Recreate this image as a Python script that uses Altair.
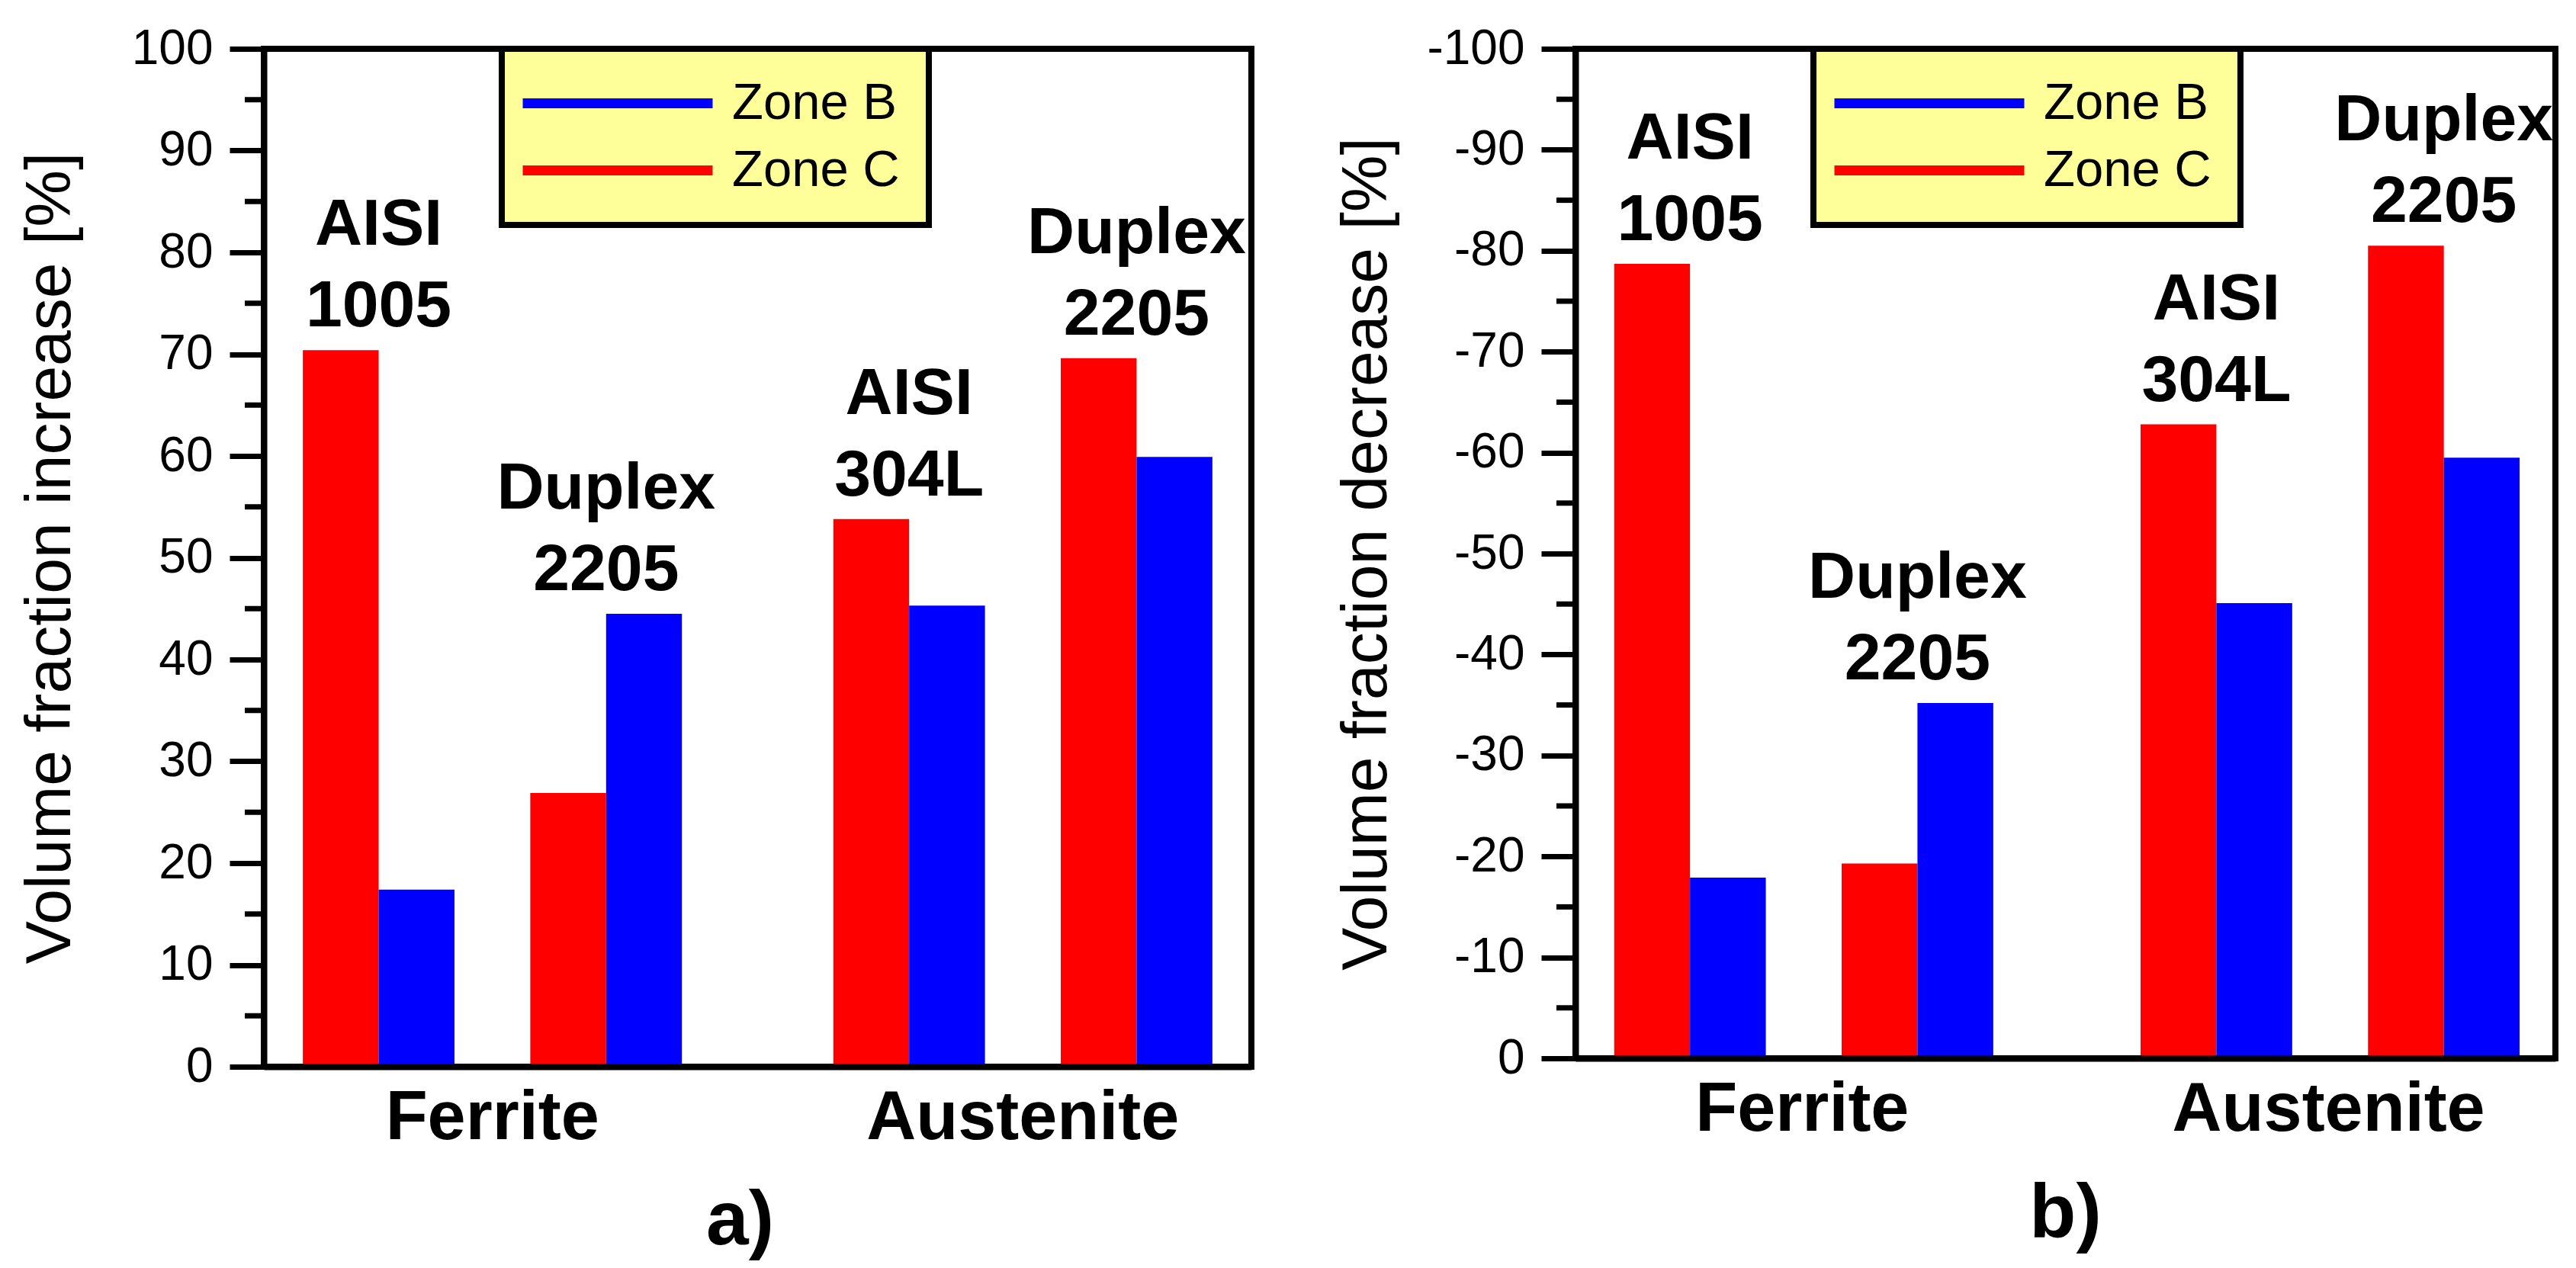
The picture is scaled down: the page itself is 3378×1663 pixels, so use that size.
import altair as alt
import pandas as pd

# ---- data ----
groups = ["Ferrite", "Ferrite", "Austenite", "Austenite"]
group_order = ["Ferrite", "Austenite"]
pairs = ["1", "2", "1", "2"]
materials = ["AISI\n1005", "Duplex\n2205", "AISI\n304L", "Duplex\n2205"]
zones = ["Zone B", "Zone C"]
zone_colors = ["#0000ff", "#ff0000"]

a_zone_b = [17.4, 44.5, 45.3, 59.9]
a_zone_c = [70.4, 26.9, 53.8, 69.6]
b_zone_b = [-17.9, -35.2, -45.1, -59.5]
b_zone_c = [-78.7, -19.3, -62.8, -80.5]

a_major = [0, 10, 20, 30, 40, 50, 60, 70, 80, 90, 100]
a_minor = [5, 15, 25, 35, 45, 55, 65, 75, 85, 95]
b_major = [-100, -90, -80, -70, -60, -50, -40, -30, -20, -10, 0]
b_minor = [-95, -85, -75, -65, -55, -45, -35, -25, -15, -5]

slot_domain = ["1C", "1B", "gap", "2C", "2B"]

FONT = "Liberation Sans, Arial, Helvetica, sans-serif"


def make_frames(zb, zc):
    bars, labels = [], []
    for g, p, m, b, c in zip(groups, pairs, materials, zb, zc):
        bars.append({"group": g, "slot": p + "C", "zone": "Zone C", "value": c})
        bars.append({"group": g, "slot": p + "B", "zone": "Zone B", "value": b})
        top = c if abs(c) >= abs(b) else b
        labels.append({"group": g, "slot": p + "C", "text": m, "value": top})
    return pd.DataFrame(bars), pd.DataFrame(labels)


def panel(zb, zc, ydomain, reverse, major, minor, label_expr, ytitle, ytitle_x,
          xtitle, xtitle_x, xtitle_y, width, height):
    bars_df, lab_df = make_frames(zb, zc)
    minor_df = pd.DataFrame({"value": minor})

    x_enc = alt.X(
        "group:N", sort=group_order,
        scale=alt.Scale(paddingInner=0.2854, paddingOuter=0.0735),
        axis=alt.Axis(
            title=xtitle, labelAngle=0, labelFont=FONT, labelFontSize=90,
            labelFontWeight="bold", labelColor="black", labelLimit=2000,
            ticks=False, labelPadding=23, domain=True, domainWidth=8,
            domainColor="black",
            titleFont=FONT, titleFontSize=100, titleFontWeight="bold",
            titleColor="black", titleX=xtitle_x, titleY=xtitle_y,
            titleBaseline="alphabetic", titleAlign="center", zindex=1,
        ),
    )
    xo_enc = alt.XOffset(
        "slot:N", sort=slot_domain,
        scale=alt.Scale(domain=slot_domain, paddingInner=0, paddingOuter=0),
    )
    y_enc = alt.Y(
        "value:Q",
        scale=alt.Scale(domain=ydomain, reverse=reverse, nice=False),
        axis=alt.Axis(
            values=major, labelExpr=label_expr, tickSize=45, tickWidth=7,
            tickColor="black", labelFont=FONT, labelFontSize=64,
            labelColor="black", labelPadding=22, grid=False,
            domain=True, domainWidth=8, domainColor="black",
            title=ytitle, titleFont=FONT, titleFontSize=84,
            titleFontWeight="normal", titleColor="black",
            titleX=ytitle_x, titleY=height / 2, titleBaseline="middle",
            titleAlign="center", zindex=1,
        ),
    )
    legend = alt.Legend(
        title=None, orient="none", legendX=312, legendY=0, direction="vertical",
        fillColor="#ffff99", strokeColor="black", padding=38,
        symbolType="M-3.716,-0.194H3.716V0.194H-3.716Z", symbolSize=4489,
        symbolStrokeWidth=0, symbolOpacity=1, symbolOffset=80.5,
        labelFont=FONT, labelFontSize=67, labelColor="black", labelOffset=116.5,
        labelExpr="datum.label + '\u00a0\u00a0'",
        rowPadding=20, labelLimit=2000,
    )
    bars = alt.Chart(bars_df).mark_bar().encode(
        x=x_enc, xOffset=xo_enc, y=y_enc,
        color=alt.Color("zone:N", scale=alt.Scale(domain=zones, range=zone_colors), legend=legend),
    )
    labels = alt.Chart(lab_df).mark_text(
        font=FONT, fontSize=86, fontWeight="bold", lineBreak="\n", lineHeight=107,
        baseline="bottom", align="center", dx=49.7, dy=-120, color="black",
    ).encode(
        x=alt.X("group:N", sort=group_order),
        xOffset=alt.XOffset("slot:N", sort=slot_domain),
        y=alt.Y("value:Q"),
        text="text:N",
    )
    minor_ticks = alt.Chart(minor_df).mark_rule(color="black", strokeWidth=7).encode(
        y=alt.Y("value:Q"), x=alt.value(-25), x2=alt.value(0),
    )
    return alt.layer(bars, labels, minor_ticks).properties(width=width, height=height)


left = panel(
    a_zone_b, a_zone_c, [0, 100], False, a_major, a_minor, "datum.label",
    "Volume fraction increase [%]", -280, "a)", 624, 232, 1295, 1335,
)
right = panel(
    b_zone_b, b_zone_c, [-100, 0], True, b_major, b_minor,
    "datum.value === 0 ? '0' : '-' + format(-datum.value, 'd')",
    "Volume fraction decrease [%]", -274, "b)", 642, 234, 1285, 1324,
)

chart = (
    alt.hconcat(left, right, spacing=101)
    .resolve_scale(color="independent")
    .resolve_legend(color="independent")
    .properties(padding={"left": 12, "top": 20, "right": 5, "bottom": 0})
    .configure_view(stroke="black", strokeWidth=8)
    .configure_legend(strokeWidth=8)
    .configure_axis(grid=False)
)

chart.save("out.html", embed_options={"renderer": "svg", "actions": False})
